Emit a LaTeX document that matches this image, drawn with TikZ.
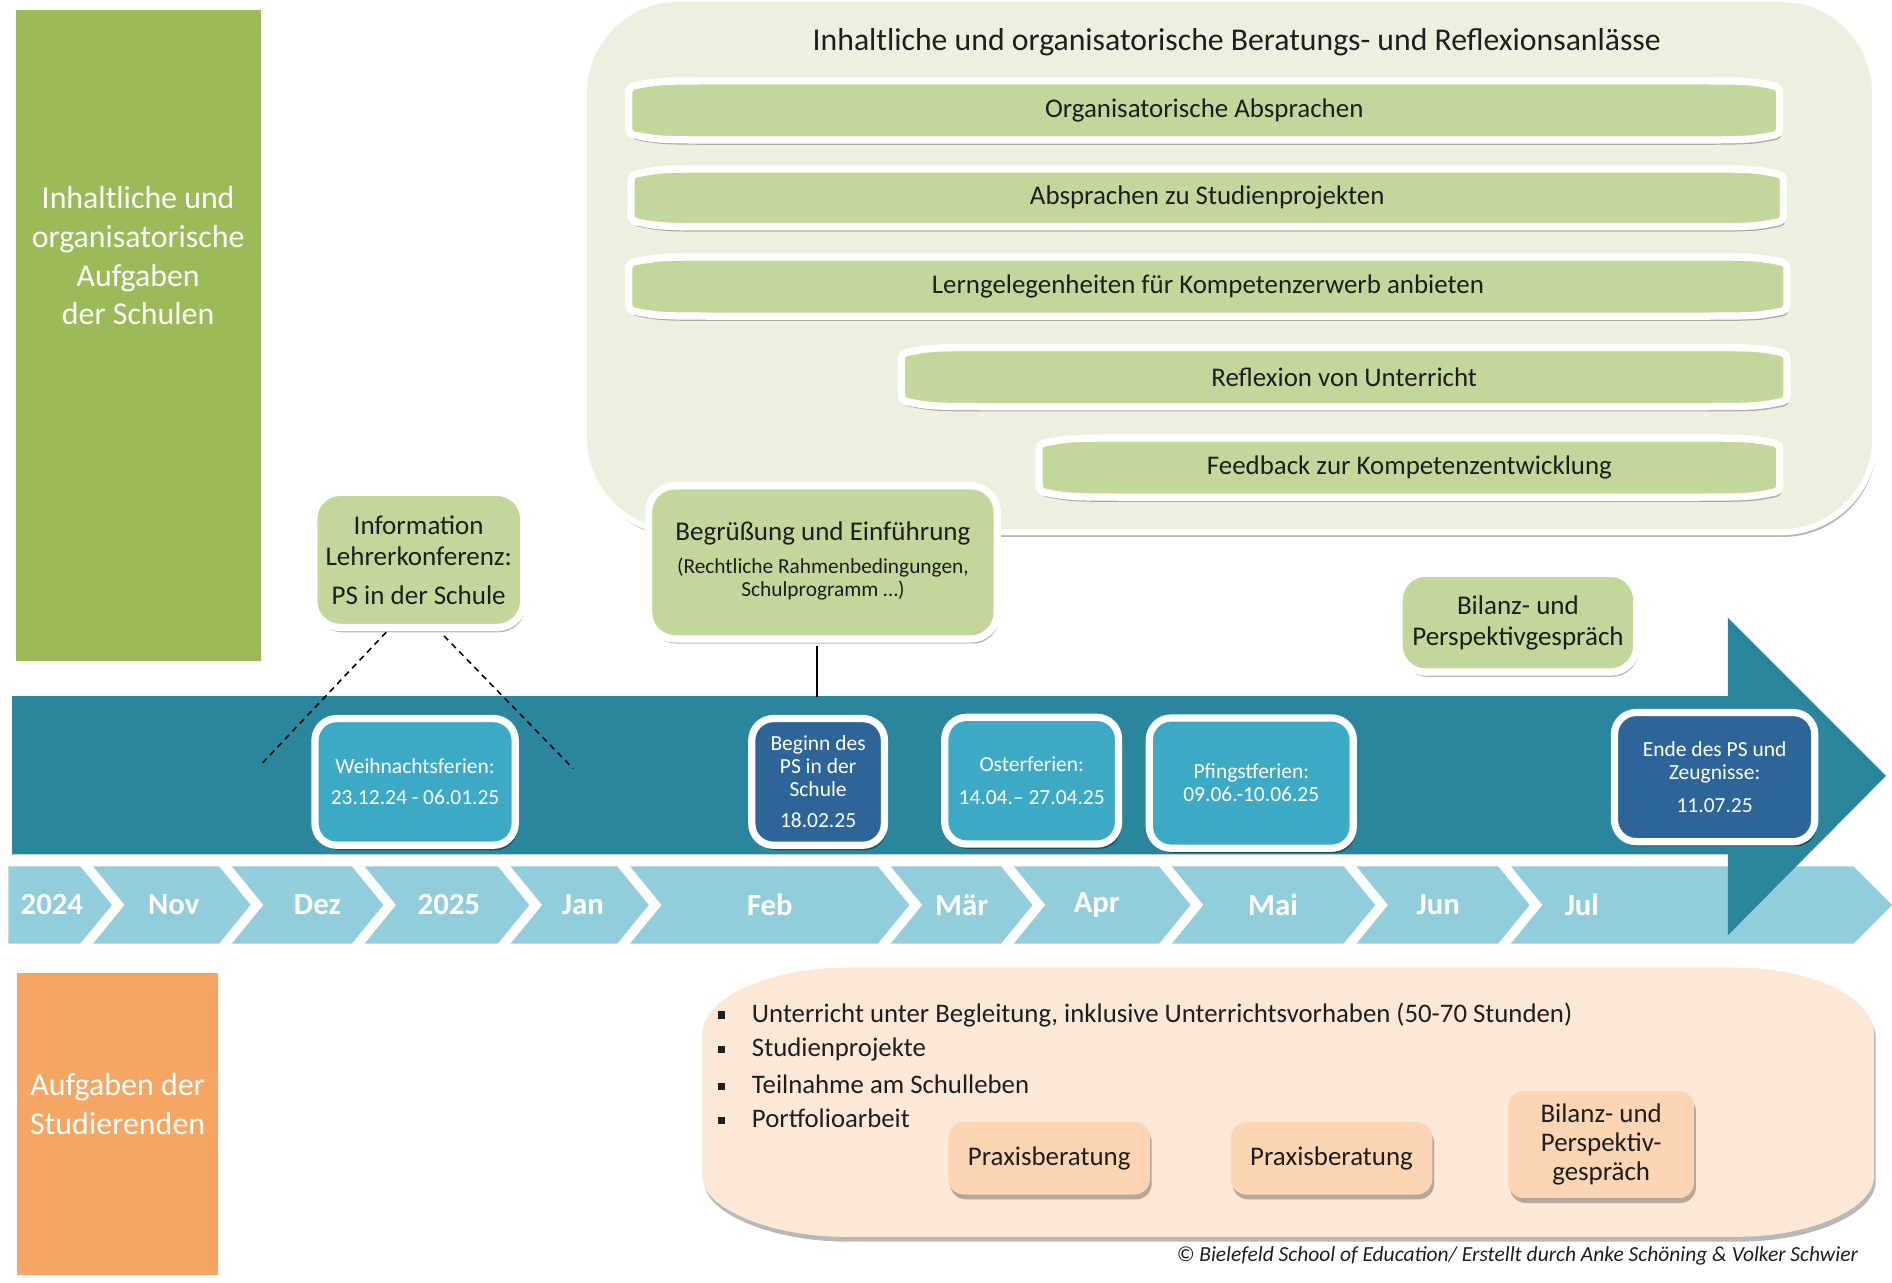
\documentclass[tikz,border=0pt]{standalone}
\usepackage{fontspec}
\setmainfont{Carlito}
\usetikzlibrary{shadows,calc}
\definecolor{grnD}{HTML}{9BBB59}
\definecolor{grnL}{HTML}{C4D79B}
\definecolor{grnP}{HTML}{EBF1DE}
\definecolor{cBand}{HTML}{2A869C}
\definecolor{cAqua}{HTML}{3DAAC5}
\definecolor{cNavy}{HTML}{2E6599}
\definecolor{cMonth}{HTML}{92CDDC}
\definecolor{cOrange}{HTML}{F5A662}
\definecolor{cPeach}{HTML}{FBE8D7}
\definecolor{cPeachB}{HTML}{FCD5B4}
\definecolor{cText}{HTML}{1E1E1E}
\newcommand\fs[2]{\fontsize{#1}{#2}\selectfont}
\newcommand\bul{\rule[3pt]{6pt}{6pt}\hspace{22pt}}
\tikzset{
  shd/.style={drop shadow={shadow xshift=1.5pt, shadow yshift=-4pt, opacity=0.28, fill=black}},
  shdd/.style={drop shadow={shadow xshift=2pt, shadow yshift=-4pt, opacity=0.4, fill=black}},
  gbox/.style={shd, draw=white, line width=6pt, fill=grnL, rounded corners=22pt, align=center, inner sep=0pt, text=cText, font=\fs{22.4}{26}},
  tbox/.style={shdd, draw=white, line width=6pt, rounded corners=18pt, align=center, inner sep=0pt, text=white, font=\fs{17.8}{19}},
  barshape/.style={shd, fill=grnL, draw=white, line width=6pt, rounded corners=4pt},
  bartext/.style={inner sep=0pt, text=cText, font=\fs{22.3}{26}},
  pbox/.style={shd, fill=cPeachB, rounded corners=13pt, align=center, inner sep=0pt, text=cText, font=\fs{22.3}{24}},
  month/.style={inner sep=0pt, text=white, font=\bfseries\fs{25.5}{30}},
  litem/.style={anchor=west, inner sep=0pt, text=cText, font=\fs{22.2}{25}},
  gapline/.style={white, line width=8pt},
  dashline/.style={black, line width=1.3pt, dash pattern=on 5pt off 4pt},
}
% bar with slightly pinched ends: name, x1, y1, x2, y2, text
\newcommand\barbox[6]{%
  \path[barshape] ({#2},{#3+5}) .. controls ({#2+25},{#3}) .. ({#2+90},{#3}) -- ({#4-90},{#3}) .. controls ({#4-25},{#3}) .. ({#4},{#3+5})
     -- ({#4},{#5-5}) .. controls ({#4-25},{#5}) .. ({#4-90},{#5}) -- ({#2+90},{#5}) .. controls ({#2+25},{#5}) .. ({#2},{#5-5}) -- cycle;
  \node[bartext] (#1) at ({(#2+#4)/2},{(#3+#5)/2}) {#6};}
\begin{document}
\begin{tikzpicture}[x=1pt, y=-1pt]
\useasboundingbox (0,0) rectangle (1568,1063);

% left green block
\node[shd, draw=white, line width=7pt, fill=grnD, minimum width=210pt, minimum height=547pt, inner sep=0pt] (schulen) at (114.5,278) {};
\node[text=white, align=center, font=\fs{26.4}{32}, inner sep=0pt] (schulentxt) at (114.5,212) {Inhaltliche und\\organisatorische\\Aufgaben\\der Schulen};

% upper panel
\node[shd, draw=white, line width=5pt, fill=grnP, rounded corners=78pt, minimum width=1070pt, minimum height=442pt, inner sep=0pt] (panel) at (1019,220) {};
\node[text=cText, font=\fs{26.3}{30}, inner sep=0pt] (paneltitle) at (1025,35) {Inhaltliche und organisatorische Beratungs- und Reflexionsanlässe};

\barbox{b1}{521}{67}{1475}{116}{Organisatorische Absprachen}
\barbox{b2}{523}{140}{1478}{188}{Absprachen zu Studienprojekten}
\barbox{b3}{521}{213}{1481}{262}{Lerngelegenheiten für Kompetenzerwerb anbieten}
\barbox{b4}{747}{288}{1481}{337}{Reflexion von Unterricht}
\barbox{b5}{861}{363}{1475}{412}{Feedback zur Kompetenzentwicklung}

% months band
\fill[cMonth] (7,718) -- (1536,718) -- (1568,750) -- (1536,782) -- (7,782) -- cycle;
\foreach \t in {72,187,297,418,517,733,835,966,1119,1247}{
  \draw[gapline] ({\t-5},712) -- ({\t+26},750) -- ({\t-5},788);
}
\node[month] (m2024) at (43,750) {2024};
\node[month] (mnov) at (144,750) {Nov};
\node[month] (mdez) at (263,750) {Dez};
\node[month] (m2025) at (372,750) {2025};
\node[month] (mjan) at (483,750) {Jan};
\node[month] (mfeb) at (638,750) {Feb};
\node[month] (mmar) at (797,750) {Mär};
\node[month] (mapr) at (909,750) {Apr};
\node[month] (mmai) at (1055,750) {Mai};
\node[month] (mjun) at (1192,750) {Jun};
\node[month] (mjul) at (1311,750) {Jul};

% big timeline arrow
\fill[cBand] (10,577) -- (1432,577) -- (1432,512) -- (1563,643) -- (1432,775) -- (1432,708) -- (10,708) -- cycle;

% boxes above the timeline
\node[gbox, minimum width=174pt, minimum height=112pt] (info) at (347,464) {Information\\Lehrerkonferenz:\\[6pt]PS in der Schule};
\node[gbox, minimum width=289pt, minimum height=127pt] (begr) at (682,466) {Begrüßung und Einführung\\[9pt]{\fs{17.7}{19}\begin{tabular}{@{}c@{}}(Rechtliche Rahmenbedingungen,\\Schulprogramm …)\end{tabular}}};
\node[gbox, minimum width=197pt, minimum height=82pt] (bilanz) at (1258,516) {Bilanz- und\\Perspektivgespräch};

% connectors
\coordinate (da1) at (320,524);
\coordinate (da2) at (215,635);
\coordinate (db1) at (368,527);
\coordinate (db2) at (475,637);
\draw[dashline] (da1) -- (da2);
\draw[dashline] (db1) -- (db2);
\coordinate (bt) at (677,578);
\draw[black, line width=1.3pt] ([yshift=-3pt]begr.south -| bt) -- (bt);

% timeline boxes
\node[tbox, fill=cAqua, minimum width=166pt, minimum height=105pt] (weih) at (344,648) {Weihnachtsferien:\\[7pt]23.12.24 - 06.01.25};
\node[tbox, fill=cNavy, minimum width=110pt, minimum height=105pt] (beginn) at (678,648) {Beginn des\\PS in der\\Schule\\[7pt]18.02.25};
\node[tbox, fill=cAqua, minimum width=144pt, minimum height=105pt] (oster) at (855,647) {Osterferien:\\[8pt]14.04.– 27.04.25};
\node[tbox, fill=cAqua, minimum width=169pt, minimum height=108pt] (pfingst) at (1037,649) {Pfingstferien:\\09.06.-10.06.25};
\node[tbox, fill=cNavy, minimum width=166pt, minimum height=107pt] (ende) at (1421,644) {Ende des PS und\\Zeugnisse:\\[8pt]11.07.25};

% lower left orange block
\node[shd, draw=white, line width=7pt, fill=cOrange, minimum width=174pt, minimum height=258pt, inner sep=0pt] (stud) at (97.5,931.5) {};
\node[text=white, align=center, font=\fs{26.5}{32}, inner sep=0pt] (studtxt) at (97.5,915) {Aufgaben der\\Studierenden};

% lower peach panel (elliptic corners)
\path[shd, fill=cPeach] (582,857) .. controls (582,826) and (640,802) .. (700,802) -- (1440,802) .. controls (1500,802) and (1553,826) .. (1553,857)
   -- (1553,975) .. controls (1553,1002) and (1500,1025) .. (1440,1025) -- (700,1025) .. controls (640,1025) and (582,1002) .. (582,975) -- cycle;
\coordinate (ppanel) at (1067,913);
\node[litem] (l1) at (595,841) {\bul Unterricht unter Begleitung, inklusive Unterrichtsvorhaben (50-70 Stunden)};
\node[litem] (l2) at (595,870) {\bul Studienprojekte};
\node[litem] (l3) at (595,899) {\bul Teilnahme am Schulleben};
\node[litem] (l4) at (595,927) {\bul Portfolioarbeit};

\node[pbox, minimum width=167pt, minimum height=60pt] (pb1) at (869.5,960) {Praxisberatung};
\node[pbox, minimum width=167pt, minimum height=60pt] (pb2) at (1103.5,960) {Praxisberatung};
\node[pbox, minimum width=154pt, minimum height=89pt] (pb3) at (1327,948.5) {Bilanz- und\\Perspektiv-\\gespräch};

% copyright
\node[anchor=east, inner sep=0pt, text=cText, font=\itshape\fs{17.8}{20}] (copy) at (1540,1041) {© Bielefeld School of Education/ Erstellt durch Anke Schöning \& Volker Schwier};
\end{tikzpicture}
\end{document}
